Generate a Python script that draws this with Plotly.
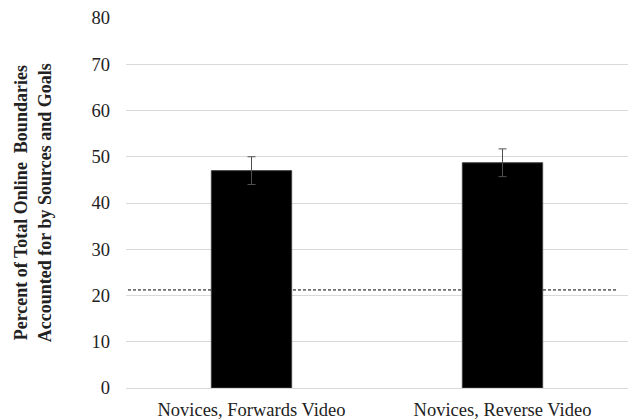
import plotly.graph_objects as go

categories = ["Novices, Forwards Video", "Novices, Reverse Video"]
values = [47.0, 48.7]
errors = [3.0, 3.0]
chance_level = 21.2
y_ticks = [0, 10, 20, 30, 40, 50, 60, 70, 80]

FONT = "'Times New Roman', 'Liberation Serif', Times, serif"

fig = go.Figure()
fig.add_trace(go.Bar(
    x=categories, y=values,
    marker=dict(color="black", line=dict(color="#404040", width=1)),
    width=0.32,
    error_y=dict(type="data", array=errors, visible=True, color="#505050", thickness=1, width=4),
    showlegend=False,
))
fig.add_shape(type="line", xref="paper", yref="y", x0=0.004, x1=0.98,
              y0=chance_level, y1=chance_level,
              line=dict(color="black", width=1, dash="3px,2px"))

fig.update_layout(
    width=632, height=419,
    margin=dict(l=126, r=4, t=18, b=31),
    paper_bgcolor="white", plot_bgcolor="white",
    font=dict(family=FONT, size=18.5, color="#222222"),
    xaxis=dict(showgrid=False, showline=False, ticks="", tickfont=dict(size=18.5),
               ticklabelstandoff=8, automargin=False),
    yaxis=dict(range=[0, 80], tickvals=y_ticks, showgrid=True, gridcolor="#d9d9d9",
               gridwidth=1, zeroline=True, zerolinecolor="#d9d9d9", zerolinewidth=1,
               showline=False, ticks="", ticklabelstandoff=15, tickfont=dict(size=18.5),
               automargin=False),
    annotations=[dict(
        text="<b>Percent of Total Online  Boundaries<br>Accounted for by Sources and Goals</b>",
        xref="paper", yref="paper", x=-0.187, y=0.5, xanchor="center", yanchor="middle",
        textangle=-90, showarrow=False,
        font=dict(family=FONT, size=18, color="#222222"),
    )],
)
fig.write_html("out.html")
